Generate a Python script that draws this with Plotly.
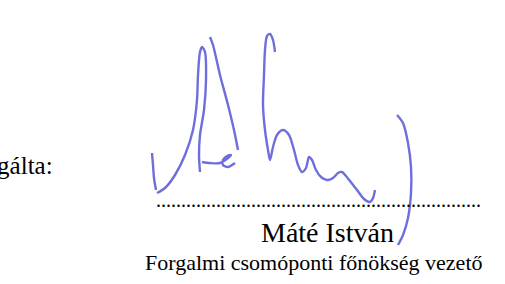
import plotly.graph_objects as go

# Signature strokes (pixel coordinates of the scanned image, y downwards)
stroke1_x = [152, 153, 154, 156]
stroke1_y = [153, 165, 178, 190]

stroke2_x = [157, 165, 175, 185, 193, 197, 198, 200, 202, 205, 206, 204, 200, 199, 200]
stroke2_y = [193, 188, 175, 155, 130, 100, 75, 52, 47, 52, 80, 110, 135, 155, 172]

stroke_e_x = [202, 210, 220, 228, 231, 227, 223, 223, 228, 235]
stroke_e_y = [162, 163, 163, 158, 155, 156, 160, 165, 167, 163]

stroke3_x = [210, 213, 220, 228, 234, 238]
stroke3_y = [37, 45, 75, 105, 130, 150]

stroke4_x = [275, 273, 270, 267, 265, 264, 263, 265, 268, 270, 273, 277, 283, 289, 294, 298,
             302, 306, 309, 312, 316, 321, 327, 333, 338, 342, 346, 350, 357, 364, 370, 373, 375]
stroke4_y = [52, 40, 34, 36, 50, 75, 105, 130, 150, 160, 147, 135, 130, 135, 150, 165,
             172, 168, 157, 160, 170, 177, 180, 178, 173, 172, 176, 181, 190, 199, 202, 198, 190]

stroke5_x = [397, 403, 408, 411, 411, 408, 403, 398]
stroke5_y = [115, 123, 143, 167, 193, 218, 235, 245]

strokes = [
    (stroke1_x, stroke1_y),
    (stroke2_x, stroke2_y),
    (stroke_e_x, stroke_e_y),
    (stroke3_x, stroke3_y),
    (stroke4_x, stroke4_y),
    (stroke5_x, stroke5_y),
]

# Text content
label_left = "Megvizsgálta:"
dots = "." * 65
name = "Máté István"
title = "Forgalmi csomóponti főnökség vezető"

INK = "rgba(85, 85, 215, 0.85)"
FONT = "Liberation Serif, Times New Roman, serif"

fig = go.Figure()
for sx, sy in strokes:
    fig.add_trace(go.Scatter(
        x=sx, y=sy, mode="lines",
        line=dict(color=INK, width=2.4, shape="spline", smoothing=0.8),
        hoverinfo="skip", showlegend=False,
    ))

fig.add_annotation(x=55, y=165, text=label_left, showarrow=False, xanchor="right",
                   yanchor="middle", font=dict(family=FONT, size=25, color="black"))
fig.add_annotation(x=318, y=213, text=dots, showarrow=False, xanchor="center",
                   yanchor="bottom", font=dict(family=FONT, size=20, color="black"))
fig.add_annotation(x=327, y=232, text=name, showarrow=False, xanchor="center",
                   yanchor="middle", font=dict(family=FONT, size=28, color="black"))
fig.add_annotation(x=314, y=262, text=title, showarrow=False, xanchor="center",
                   yanchor="middle", font=dict(family=FONT, size=22, color="black"))

fig.update_layout(
    width=505, height=284,
    margin=dict(l=0, r=0, t=0, b=0),
    paper_bgcolor="white", plot_bgcolor="white",
    xaxis=dict(range=[0, 505], visible=False, fixedrange=True),
    yaxis=dict(range=[284, 0], visible=False, fixedrange=True),
)

fig.write_html("out.html", config={"displayModeBar": False},
               post_script="document.body.style.margin='0';")
